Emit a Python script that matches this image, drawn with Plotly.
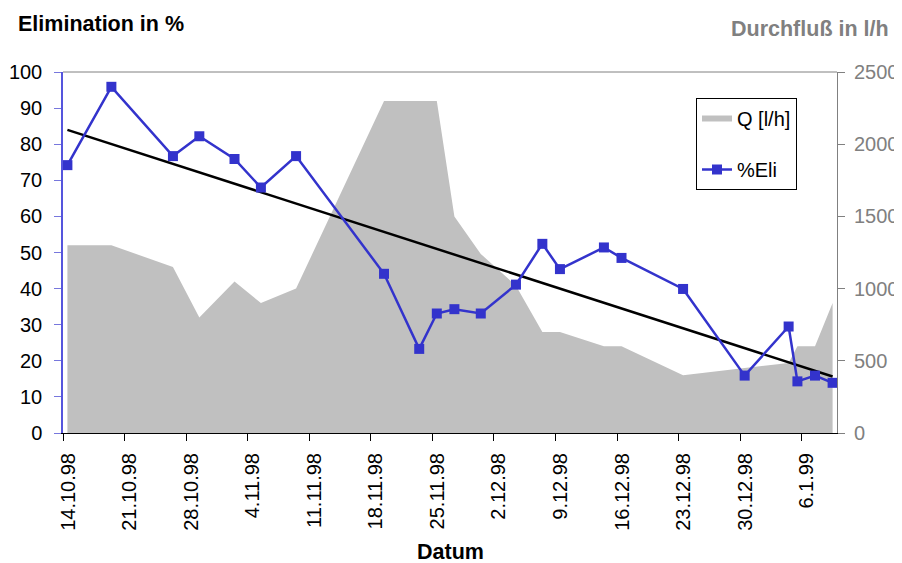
import numpy as np
import pandas as pd
import plotly.graph_objects as go

# ---- data ----
dates = ["1998-10-14", "1998-10-19", "1998-10-26", "1998-10-29", "1998-11-02",
         "1998-11-05", "1998-11-09", "1998-11-19", "1998-11-23", "1998-11-25",
         "1998-11-27", "1998-11-30", "1998-12-04", "1998-12-07", "1998-12-09",
         "1998-12-14", "1998-12-16", "1998-12-23", "1998-12-30", "1999-01-04",
         "1999-01-05", "1999-01-07", "1999-01-09"]
elimination = [74.2, 95.9, 76.7, 82.2, 75.9, 68.0, 76.7, 44.1, 23.3, 33.1,
               34.3, 33.1, 41.1, 52.4, 45.4, 51.4, 48.5, 39.9, 15.9, 29.5,
               14.3, 15.9, 13.9]
flow = [1300, 1300, 1150, 800, 1050, 900, 1000, 2300, 2300, 2300,
        1500, 1240, 1020, 700, 700, 600, 600, 400, 450, 485,
        600, 600, 900]
tick_labels = ["14.10.98", "21.10.98", "28.10.98", "4.11.98", "11.11.98",
               "18.11.98", "25.11.98", "2.12.98", "9.12.98", "16.12.98",
               "23.12.98", "30.12.98", "6.1.99"]

x = pd.to_datetime(dates)
days = (x - x[0]).days.values.astype(float)
slope, intercept = np.polyfit(days, elimination, 1)
trend_x = [x[0], x[-1]]
trend_y = [intercept + slope * days[0], intercept + slope * days[-1]]

tickvals = pd.to_datetime(tick_labels, format="%d.%m.%y") - pd.Timedelta(hours=12)

FONT = "Liberation Sans, Arial, sans-serif"
BLUE = "#3333CC"
GRAY = "#808080"

fig = go.Figure()
fig.add_trace(go.Scatter(
    x=x, y=flow, name="Q [l/h]", mode="none", fill="tozeroy",
    fillcolor="#C0C0C0", yaxis="y", legendgroup="q"))
fig.add_trace(go.Scatter(
    x=trend_x, y=trend_y, mode="lines", line=dict(color="black", width=2.5),
    showlegend=False, yaxis="y2"))
fig.add_trace(go.Scatter(
    x=x, y=elimination, name="%Eli", mode="lines+markers",
    line=dict(color=BLUE, width=2.5),
    marker=dict(symbol="square", size=10, color=BLUE),
    yaxis="y2", legendgroup="e"))

x0 = x[0] - pd.Timedelta(hours=12)
x1 = x[-1] + pd.Timedelta(hours=12)

# page body has an 8px margin; plot area in page pixels: x 63..837, y 72..433
PL, PT, PW, PH = 63, 72, 774, 361
def px(xp):
    return (xp - PL) / PW
def py(yp):
    return (PT + PH - yp) / PH

fig.update_layout(
    width=894, height=555,
    margin=dict(l=55, r=65, t=64, b=130, autoexpand=False),
    paper_bgcolor="white", plot_bgcolor="white",
    font=dict(family=FONT, size=20, color="black"),
    showlegend=True,
    legend=dict(x=px(696), y=py(98), xanchor="left", yanchor="top",
                bordercolor="black", borderwidth=1, bgcolor="white",
                font=dict(size=20), traceorder="grouped", tracegroupgap=22),
    xaxis=dict(
        type="date", range=[x0, x1],
        tickvals=list(tickvals), ticktext=tick_labels,
        tickangle=-90, ticks="outside", ticklen=7, tickcolor="black",
        ticklabelshift=5, ticklabelstandoff=4,
        showline=True, linecolor="black", linewidth=1,
        showgrid=False, zeroline=False, automargin=False,
        tickfont=dict(size=20, color="black")),
    yaxis=dict(
        range=[0, 2500], dtick=500, side="right",
        showline=True, linecolor=GRAY, linewidth=1,
        ticks="outside", ticklen=7, tickcolor=GRAY, ticklabelstandoff=5,
        tickfont=dict(size=20, color=GRAY), automargin=False,
        showgrid=False, zeroline=False),
    yaxis2=dict(
        range=[0, 100], dtick=10, side="left", overlaying="y",
        showline=True, linecolor="#5555DD", linewidth=1.5,
        ticks="outside", ticklen=7, tickcolor="#7777DD", ticklabelstandoff=8,
        tickfont=dict(size=20, color="black"), automargin=False,
        showgrid=False, zeroline=False),
    shapes=[dict(type="line", xref="paper", yref="paper", x0=0, x1=1, y0=1, y1=1,
                 line=dict(color=GRAY, width=1))],
    annotations=[
        dict(text="<b>Elimination in %</b>", xref="paper", yref="paper",
             x=px(16), y=py(24), xanchor="left", yanchor="middle",
             showarrow=False, font=dict(size=21.5, color="black")),
        dict(text="<b>Durchfluß in l/h</b>", xref="paper", yref="paper",
             x=px(891), y=py(29), xanchor="right", yanchor="middle",
             showarrow=False, font=dict(size=21.5, color=GRAY)),
        dict(text="<b>Datum</b>", xref="paper", yref="paper",
             x=px(450), y=py(552), xanchor="center", yanchor="middle",
             showarrow=False, font=dict(size=21.5, color="black")),
    ],
)

fig.write_html("out.html")
